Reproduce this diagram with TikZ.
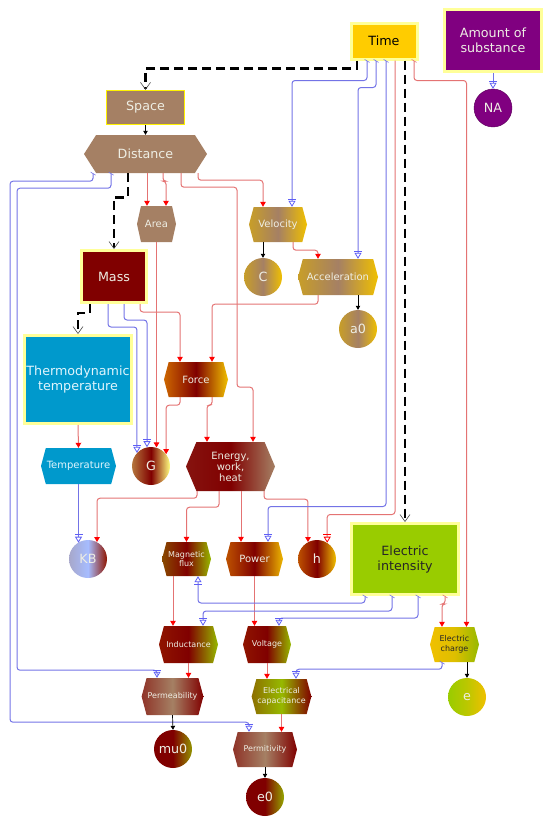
\documentclass[tikz,border=0pt]{standalone}
\usepackage{fontspec}
\setmainfont{DejaVu Sans}
\usetikzlibrary{arrows.meta, shapes.symbols}
\definecolor{BorderYellow}{RGB}{255,255,153}
\definecolor{SpaceBrown}{RGB}{165,128,100}
\definecolor{DarkRed}{RGB}{128,0,0}
\definecolor{MolePurple}{RGB}{128,0,128}
\definecolor{SkyBlue}{RGB}{0,153,204}
\definecolor{LimeGreen}{RGB}{153,204,0}
\definecolor{TimeGold}{RGB}{255,204,0}
\definecolor{Amber}{RGB}{240,192,0}
\definecolor{Ochre}{RGB}{200,158,40}
\definecolor{OliveGreen}{RGB}{150,185,0}
\definecolor{Rust}{RGB}{204,102,0}
\definecolor{PaleText}{RGB}{238,238,228}
\definecolor{LinkRed}{RGB}{228,115,115}
\definecolor{LinkBlue}{RGB}{115,115,230}
\definecolor{TipBlue}{RGB}{95,95,245}
\newcommand\bigf{\fontsize{12.7}{15}\selectfont}
\newcommand\midf{\fontsize{10}{11}\selectfont}
\newcommand\smallf{\fontsize{8}{9.5}\selectfont}
\tikzset{Tick/.tip={Bar[width=5pt,line width=0.7pt,slant=0.6]}}

\begin{document}
\begin{tikzpicture}[x=1pt, y=-1pt,
  base/.style={text=PaleText, inner sep=1pt, align=center},
  unitbox/.style={base, rectangle, draw=BorderYellow, line width=3pt, font=\bigf},
  hexnode/.style={base, shape=signal, signal to=west and east, signal pointer angle=#1, font=\midf},
  hexnode/.default=150,
  const/.style={base, circle, inner sep=0pt, minimum size=38, font=\bigf},
  solidlink/.style={black, line width=0.7pt, -{Triangle[length=4pt,width=4.5pt]}},
  dashlink/.style={black, line width=2.6pt, dash pattern=on 9pt off 5pt,
    -{Straight Barb[length=7pt,width=10pt,line width=0.6pt,color=black!70]}},
  redlink/.style={LinkRed, line width=1pt, rounded corners=3pt,
    arrows={#1-{Triangle[length=5pt,width=5.5pt,color=red]}}},
  redlink/.default={},
  redinv/.style={LinkRed, line width=1pt, rounded corners=3pt,
    -{Bar[width=8pt,line width=0.8pt,color=red,sep=1.5pt]Triangle[open,length=6pt,width=7pt,line width=0.8pt,color=red]}},
  bluelink/.style={LinkBlue, line width=1pt, rounded corners=3pt,
    arrows={#1-{Bar[width=8pt,line width=0.8pt,color=TipBlue,sep=1.5pt]Triangle[open,length=6pt,width=7pt,line width=0.8pt,color=TipBlue]}}},
  bluelink/.default={}]
  \useasboundingbox (0,0) rectangle (550,820);

  % base units
  \node[unitbox, fill=TimeGold, text=black, minimum width=66, minimum height=36] (Time) at (384,41) {Time};
  \node[unitbox, fill=MolePurple, minimum width=97, minimum height=62] (Substance) at (493,40.5) {Amount of\\substance};
  \node[unitbox, fill=SpaceBrown, draw=yellow, line width=1.2pt, minimum width=78, minimum height=34] (Space) at (145.5,107.5) {Space};
  \node[unitbox, fill=DarkRed, minimum width=65, minimum height=52] (Mass) at (114,276.5) {Mass};
  \node[unitbox, fill=SkyBlue, text=cyan!12, minimum width=107, minimum height=88] (Thermo) at (78,379.5) {Thermodynamic\\temperature};
  \node[unitbox, fill=LimeGreen, text=black!85, minimum width=107, minimum height=71] (Intensity) at (405,559) {Electric\\intensity};

  % derived quantities
  \node[hexnode=115, fill=SpaceBrown, font=\bigf, minimum width=123, minimum height=38] (Distance) at (145.5,154) {Distance};
  \node[hexnode=155, fill=SpaceBrown, minimum width=39, minimum height=36] (Area) at (156.5,224) {Area};
  \node[hexnode, left color=Ochre, right color=Amber, middle color=SpaceBrown, minimum width=58, minimum height=35] (Velocity) at (278,224.5) {Velocity};
  \node[hexnode, left color=Ochre, right color=Amber, middle color=SpaceBrown, minimum width=80, minimum height=36] (Acceleration) at (338,277) {Acceleration};
  \node[hexnode, left color=Rust, right color=Amber, middle color=DarkRed, minimum width=64, minimum height=35] (Force) at (196,379.5) {Force};
  \node[hexnode=134, left color=DarkRed!85!SpaceBrown, right color=SpaceBrown, middle color=DarkRed, minimum width=89, minimum height=49] (Energy) at (230.5,466.5) {Energy,\\work,\\heat};
  \node[hexnode, fill=SkyBlue, text=cyan!12, minimum width=75, minimum height=36] (Temperature) at (78.5,466) {Temperature};
  \node[hexnode, left color=DarkRed!60!OliveGreen, right color=OliveGreen, middle color=DarkRed, font=\smallf, minimum width=49, minimum height=34] (Flux) at (186.5,559) {Magnetic\\flux};
  \node[hexnode, left color=Rust!80!DarkRed, right color=Amber!90!Rust, middle color=DarkRed, minimum width=57, minimum height=34] (Power) at (254.5,559) {Power};
  \node[hexnode, left color=DarkRed!80!Rust, right color=OliveGreen, middle color=DarkRed, font=\smallf, minimum width=59, minimum height=37] (Inductance) at (188.5,644.5) {Inductance};
  \node[hexnode, left color=DarkRed!80!Rust, right color=OliveGreen, middle color=DarkRed, font=\smallf, minimum width=48, minimum height=37] (Voltage) at (267,644.5) {Voltage};
  \node[hexnode, left color=Amber, right color=OliveGreen, middle color=Amber!80!OliveGreen, text=black!85, font=\smallf, minimum width=49, minimum height=35] (Charge) at (454.5,644.5) {Electric\\charge};
  \node[hexnode, left color=DarkRed!60!SpaceBrown, right color=DarkRed, middle color=SpaceBrown, font=\smallf, minimum width=61, minimum height=37] (Permeability) at (172.5,696.5) {Permeability};
  \node[hexnode, left color=DarkRed!40!OliveGreen, right color=DarkRed, middle color=OliveGreen, font=\smallf, minimum width=59, minimum height=35] (Capacitance) at (281.5,696.5) {Electrical\\capacitance};
  \node[hexnode, left color=DarkRed!60!SpaceBrown, right color=DarkRed, middle color=SpaceBrown, font=\smallf, minimum width=64, minimum height=35] (Permitivity) at (265,749.5) {Permitivity};

  % constants
  \node[const, fill=MolePurple, draw=MolePurple!70!black] (NA) at (493,108) {NA};
  \node[const, left color=Ochre, right color=Amber, middle color=SpaceBrown] (C) at (263,277) {C};
  \node[const, left color=Ochre, right color=Amber, middle color=SpaceBrown] (Azero) at (358,329) {a0};
  \node[const, left color=SpaceBrown!60!Rust, right color=yellow!50, middle color=DarkRed] (G) at (151,466) {G};
  \node[const, left color=gray!75!blue!55, right color=DarkRed!80!Rust, middle color=cyan!25!blue!35] (KB) at (88,559) {KB};
  \node[const, left color=Rust!80!DarkRed, right color=Amber, middle color=DarkRed] (Planck) at (317,559) {h};
  \node[const, left color=LimeGreen, right color=Amber, middle color=LimeGreen!60!Amber] (ElemCharge) at (467,697) {e};
  \node[const, left color=DarkRed, right color=OliveGreen!80!DarkRed, middle color=DarkRed] (Mu) at (173,749) {mu0};
  \node[const, left color=DarkRed, right color=OliveGreen!90!DarkRed, middle color=DarkRed] (Ezero) at (265,797) {e0};

  % base units feeding each other
  \draw[dashlink] ([xshift=-27]Time.south) -- ++(0,8) -| (Space.north);
  \draw[dashlink] ([xshift=-17.5]Distance.south) -- ++(0,24) -| (Mass.north);
  \draw[dashlink] ([xshift=-24]Mass.south) -- ++(0,9) -| (Thermo.north);
  \draw[dashlink] ([xshift=21]Time.south) -- (Intensity.north);

  % direct (multiplying) relations
  \draw[redlink] ([xshift=1.5]Distance.south) -- ([xshift=-9.5]Area.north);
  \draw[redlink] ([xshift=17.5]Distance.south) -- ++(0,8) -| ([xshift=9.5]Area.north);
  \draw[redlink] ([xshift=35.5]Distance.south) -- ++(0,14) -- ++(56,0) -- ++(0,200) -| ([xshift=22.5]Energy.north);
  \draw[redlink] ([xshift=52.5]Distance.south) -- ++(0,7) -| ([xshift=-15]Velocity.north);
  \draw[redlink] (Area.south) -- (Area.south |- G.75);
  \draw[redlink] ([xshift=15]Velocity.south) -- ++(0,8) -| ([xshift=-20]Acceleration.north);
  \draw[redlink] ([xshift=-20]Acceleration.south) -- ++(0,9) -| ([xshift=16]Force.north);
  \draw[redlink] ([xshift=26]Mass.south) -- ++(0,8) -| ([xshift=-16]Force.north);
  \draw[redlink] ([xshift=-16]Force.south) -- ++(0,8) -| (G.38);
  \draw[redlink] ([xshift=16]Force.south) -- ++(0,8) -| ([xshift=-23.5]Energy.north);
  \draw[redlink] (Thermo.south) -- (Temperature.north);
  \draw[redlink] ([xshift=-33.5]Energy.south) -- ++(0,7) -| (KB.62);
  \draw[redlink] ([xshift=-11.5]Energy.south) -- ++(0,16) -| (Flux.north);
  \draw[redlink] ([xshift=10.5]Energy.south) -- ([xshift=-13.5]Power.north);
  \draw[redlink] ([xshift=33.5]Energy.south) -- ++(0,8) -| (Planck.118);
  \draw[redlink] ([xshift=-13.5]Flux.south) -- ([xshift=-15.5]Inductance.north);
  \draw[redlink] (Power.south) -- ([xshift=-12.5]Voltage.north);
  \draw[redlink] (Inductance.south) -- ([xshift=16]Permeability.north);
  \draw[redlink] (Voltage.south) -- ([xshift=-14.5]Capacitance.north);
  \draw[redlink] (Capacitance.south) -- ([xshift=16.5]Permitivity.north);
  \draw[redlink=Tick] ([xshift=40]Intensity.south) -- ++(0,8) -| ([xshift=-12.5]Charge.north);
  \draw[redlink=Tick] ([xshift=30]Time.south) -- ++(0,20) -| ([xshift=12]Charge.north);
  \draw[redinv] ([xshift=11]Time.south) -- ++(0,454) -| (Planck.58);

  % inverse (dividing) relations
  \draw[bluelink=Tick] ([xshift=-17]Time.south) -- ++(0,20) -| ([xshift=14]Velocity.north);
  \draw[bluelink=Tick] ([xshift=-8]Time.south) -- ++(0,27) -| ([xshift=20]Acceleration.north);
  \draw[bluelink=Tick] ([xshift=2]Time.south) -- ++(0,446) -| ([xshift=13.5]Power.north);
  \draw[bluelink=Tick] ([xshift=-52.5]Distance.south) -- ++(0,8) -- ++(-83,0) -- ++(0,541) -| ([xshift=-16]Permitivity.north);
  \draw[bluelink=Tick] ([xshift=-34.5]Distance.south) -- ++(0,15) -- ++(-94,0) -- ++(0,482) -| ([xshift=-15.5]Permeability.north);
  \draw[bluelink] ([xshift=-6]Mass.south) -- ++(0,23) -| (G.137);
  \draw[bluelink] ([xshift=10]Mass.south) -- ++(0,16) -| (G.102);
  \draw[bluelink] (Temperature.south) -- (Temperature.south |- KB.122);
  \draw[bluelink=Tick] ([xshift=-40]Intensity.south) -- ++(0,7) -| ([xshift=11.5]Flux.south);
  \draw[bluelink=Tick] ([xshift=-13]Intensity.south) -- ++(0,15) -| ([xshift=14.5]Inductance.north);
  \draw[bluelink=Tick] ([xshift=13]Intensity.south) -- ++(0,22) -| ([xshift=12]Voltage.north);
  \draw[bluelink=Tick] ([xshift=-12.5]Charge.south) -- ++(0,7) -| ([xshift=14.5]Capacitance.north);
  \draw[bluelink] (Substance.south) -- (NA.north);

  % constants taken from a quantity
  \draw[solidlink] (Space.south) -- (Distance.north);
  \draw[solidlink] ([xshift=-15]Velocity.south) -- (C.north);
  \draw[solidlink] ([xshift=20]Acceleration.south) -- (Azero.north);
  \draw[solidlink] ([xshift=12.5]Charge.south) -- (ElemCharge.north);
  \draw[solidlink] (Permeability.south) -- (Mu.north);
  \draw[solidlink] (Permitivity.south) -- (Ezero.north);
\end{tikzpicture}
\end{document}
